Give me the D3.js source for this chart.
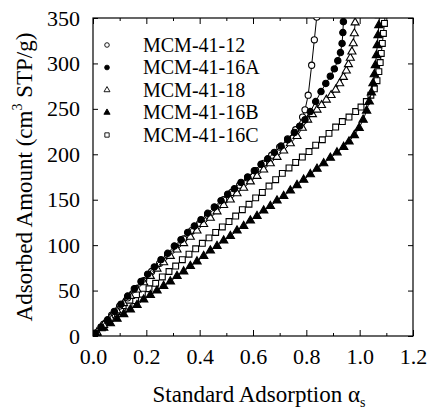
<!DOCTYPE html>
<html>
<head>
<meta charset="utf-8">
<script src="https://cdn.jsdelivr.net/npm/d3@7"></script>
<style>
  body { margin: 0; background: #fff; }
  svg text { font-family: "Liberation Serif", "Times New Roman", serif; fill: #000; }
</style>
</head>
<body>
<div id="chart"></div>
<script>
// DATA
const alpha12  = [0.01,0.04,0.07,0.10,0.13,0.16,0.19,0.22,0.25,0.28,0.31,0.34,0.37,0.40,0.43,0.46,0.49,0.52,0.55,0.58,0.61,0.64,0.67,0.70,0.73,0.76,0.786,0.795,0.807,0.82,0.83,0.839];
const amount12 = [3,13,23,33,42,52,61,71,80,89,98,107,116,124,133,141,150,158,166,174,182,190,199,208,217,227,241,249,265,298,326,351];

const alpha16A  = [0.01,0.03,0.055,0.08,0.105,0.13,0.155,0.18,0.205,0.23,0.255,0.28,0.305,0.33,0.355,0.38,0.405,0.43,0.455,0.48,0.505,0.53,0.555,0.58,0.605,0.63,0.655,0.68,0.705,0.73,0.755,0.775,0.795,0.815,0.835,0.855,0.873,0.89,0.905,0.918,0.928,0.934,0.937,0.939,0.94];
const amount16A = [3,10,18,27,35,44,52,60,68,76,84,91,99,106,114,121,128,135,142,149,156,162,169,175,182,189,195,202,209,216,224,231,238,247,258,269,278,286,294,303,312,322,334,346,356];

const alpha18  = [0.015,0.04,0.065,0.09,0.115,0.14,0.165,0.19,0.215,0.24,0.265,0.29,0.315,0.34,0.365,0.39,0.415,0.44,0.465,0.49,0.515,0.54,0.565,0.59,0.615,0.64,0.665,0.69,0.715,0.74,0.765,0.785,0.805,0.823,0.84,0.857,0.875,0.893,0.91,0.925,0.939,0.95,0.958,0.965,0.971,0.976,0.98,0.983,0.985];
const amount18 = [4,12,20,28,36,44,51,59,66,74,81,88,95,102,109,116,123,130,137,144,150,157,163,170,176,183,190,197,204,212,220,229,238,244,249,254,260,265,271,278,285,292,299,306,313,322,333,345,355];

const alpha16B  = [0.015,0.04,0.065,0.09,0.115,0.14,0.165,0.19,0.215,0.24,0.265,0.29,0.315,0.34,0.365,0.39,0.415,0.44,0.465,0.49,0.515,0.54,0.565,0.59,0.615,0.64,0.665,0.69,0.715,0.74,0.765,0.79,0.815,0.84,0.865,0.89,0.915,0.94,0.96,0.98,0.998,1.013,1.026,1.036,1.044,1.05,1.055,1.059,1.063,1.066,1.069,1.072,1.075];
const amount16B = [3,9,14,19,24,29,34,40,45,50,55,60,66,71,77,82,88,94,99,105,110,116,121,127,132,138,143,149,154,160,166,172,178,184,190,196,202,208,214,221,229,238,248,258,268,278,288,298,309,320,331,342,353];

const alpha16C  = [0.012,0.035,0.06,0.085,0.11,0.135,0.16,0.185,0.21,0.235,0.26,0.285,0.31,0.335,0.36,0.385,0.41,0.435,0.46,0.485,0.51,0.535,0.56,0.585,0.61,0.635,0.66,0.685,0.71,0.735,0.76,0.785,0.81,0.835,0.86,0.885,0.91,0.935,0.96,0.985,1.005,1.025,1.042,1.055,1.065,1.072,1.077,1.081,1.085,1.089,1.093,1.096];
const amount16C = [3,9,15,21,27,33,39,46,52,58,65,71,77,84,90,96,102,108,114,120,126,132,139,145,152,158,165,172,179,185,191,197,203,210,216,223,230,236,241,247,252,258,265,272,281,291,301,311,322,333,344,354];

const seriesNames = ["MCM-41-12", "MCM-41-16A", "MCM-41-18", "MCM-41-16B", "MCM-41-16C"];
const xTicks = [0, 0.2, 0.4, 0.6, 0.8, 1.0, 1.2];
const yTicks = [0, 50, 100, 150, 200, 250, 300, 350];

// series table built from the arrays above
const series = [
  { name: seriesNames[0], shape: d3.symbolCircle,   size: 30, open: true,  xs: alpha12,  ys: amount12 },
  { name: seriesNames[1], shape: d3.symbolCircle,   size: 32, open: false, xs: alpha16A, ys: amount16A },
  { name: seriesNames[2], shape: d3.symbolTriangle, size: 28, open: true,  xs: alpha18,  ys: amount18 },
  { name: seriesNames[3], shape: d3.symbolTriangle, size: 30, open: false, xs: alpha16B, ys: amount16B },
  { name: seriesNames[4], shape: d3.symbolSquare,   size: 34, open: true,  xs: alpha16C, ys: amount16C }
];
const drawOrder = [4, 3, 0, 2, 1];

const serif = "Liberation Serif, Times New Roman, serif";
const width = 427, height = 412;
const margin = { top: 18, right: 14, bottom: 76, left: 93 };
const innerW = width - margin.left - margin.right;
const innerH = height - margin.top - margin.bottom;

const svg = d3.select("#chart").append("svg")
  .attr("width", width)
  .attr("height", height)
  .attr("font-family", serif);

const g = svg.append("g")
  .attr("transform", `translate(${margin.left},${margin.top})`);

const x = d3.scaleLinear().domain([0, 1.2]).range([0, innerW]);
const y = d3.scaleLinear().domain([0, 350]).range([innerH, 0]);

svg.append("defs").append("clipPath").attr("id", "plotclip")
  .append("rect").attr("width", innerW).attr("height", innerH);

// axes, ticks pointing inside
const minorX = d3.range(0.1, 1.2, 0.2);
function styleAxis(sel) {
  sel.attr("font-family", serif);
  sel.select(".domain").remove();
  sel.selectAll(".tick line").attr("stroke", "#000").attr("stroke-width", 1);
  sel.selectAll(".tick text").attr("font-family", serif).attr("fill", "#000");
}

g.append("g").attr("transform", `translate(0,${innerH})`)
  .call(d3.axisBottom(x).tickValues(xTicks).tickSize(-6).tickSizeOuter(0).tickPadding(12).tickFormat(d3.format(".1f")))
  .call(styleAxis)
  .call(s => s.selectAll("text").attr("font-size", 22));
g.append("g").attr("transform", `translate(0,${innerH})`)
  .call(d3.axisBottom(x).tickValues(minorX).tickSize(-3).tickFormat(""))
  .call(styleAxis);
g.append("g")
  .call(d3.axisTop(x).tickValues(xTicks).tickSize(-6).tickFormat(""))
  .call(styleAxis);
g.append("g")
  .call(d3.axisTop(x).tickValues(minorX).tickSize(-3).tickFormat(""))
  .call(styleAxis);
g.append("g")
  .call(d3.axisLeft(y).tickValues(yTicks).tickSize(-5).tickPadding(13))
  .call(styleAxis)
  .call(s => s.selectAll("text").attr("font-size", 22));
g.append("g").attr("transform", `translate(${innerW},0)`)
  .call(d3.axisRight(y).tickValues(yTicks).tickSize(-5).tickFormat(""))
  .call(styleAxis);

g.append("rect")
  .attr("width", innerW).attr("height", innerH)
  .attr("fill", "none").attr("stroke", "#000").attr("stroke-width", 1.2);

// curves
const plot = g.append("g").attr("clip-path", "url(#plotclip)");
const line = d3.line().x(d => x(d[0])).y(d => y(d[1]));

drawOrder.forEach(i => {
  const s = series[i];
  const pts = s.xs.map((a, k) => [a, s.ys[k]]);
  plot.append("path")
    .datum(pts)
    .attr("d", line)
    .attr("fill", "none")
    .attr("stroke", "#000")
    .attr("stroke-width", 1);
  plot.append("g").selectAll("path")
    .data(pts)
    .join("path")
      .attr("transform", d => `translate(${x(d[0])},${y(d[1])})`)
      .attr("d", d3.symbol().type(s.shape).size(s.size))
      .attr("fill", s.open ? "#fff" : "#000")
      .attr("stroke", "#000")
      .attr("stroke-width", 1.1);
});

// legend
const legend = g.append("g").attr("transform", "translate(14,27)");
series.forEach((s, i) => {
  const row = legend.append("g").attr("transform", `translate(0,${i * 22.5})`);
  row.append("path")
    .attr("d", d3.symbol().type(s.shape).size(s.size * 0.55))
    .attr("fill", s.open ? "#fff" : "#000")
    .attr("stroke", "#000")
    .attr("stroke-width", 0.9);
  row.append("text")
    .attr("x", 36)
    .attr("dy", "0.34em")
    .attr("font-size", 20)
    .text(s.name);
});

// axis titles
const xt = svg.append("text")
  .attr("x", margin.left + innerW / 2 + 6)
  .attr("y", 402)
  .attr("text-anchor", "middle")
  .attr("font-size", 23);
xt.append("tspan").text("Standard Adsorption \u03b1");
xt.append("tspan").attr("font-size", 14).attr("dy", 5).text("s");

const yt = svg.append("text")
  .attr("transform", `translate(32,${margin.top + innerH / 2}) rotate(-90)`)
  .attr("text-anchor", "middle")
  .attr("font-size", 23);
yt.append("tspan").text("Adsorbed Amount (cm");
yt.append("tspan").attr("font-size", 14).attr("dy", -10).text("3");
yt.append("tspan").attr("dy", 10).text(" STP/g)");
</script>
</body>
</html>
